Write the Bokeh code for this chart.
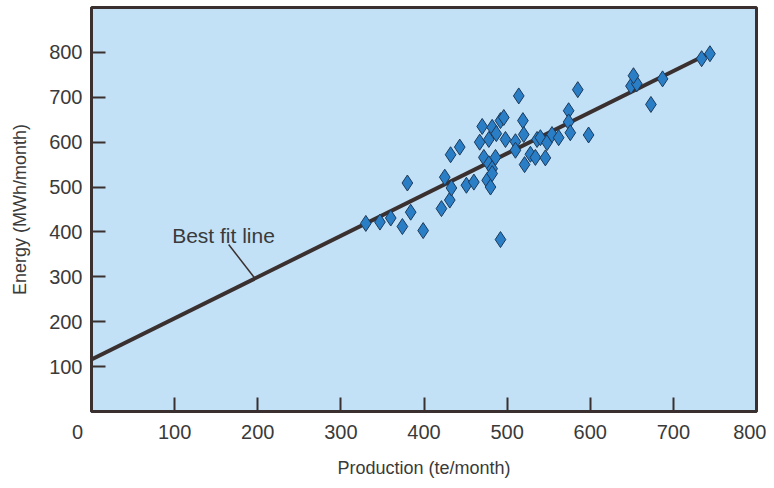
from bokeh.plotting import figure
from bokeh.models import FixedTicker, Range1d
from bokeh.embed import file_html
from bokeh.resources import INLINE
from bokeh.core.properties import value

# Scatter data
production = [330, 347, 360, 374, 380, 384, 399, 421, 425, 431, 433, 432, 443, 451, 460,
              467, 470, 472, 476, 478, 478, 480, 482, 482, 482, 486, 487, 492, 496, 492,
              498, 510, 510, 514, 519, 520, 521, 528, 534, 536, 540, 546, 548, 554, 562,
              574, 574, 576, 585, 598, 649, 656, 652, 673, 687, 734, 744]
energy = [419, 422, 431, 412, 509, 444, 403, 452, 522, 471, 498, 572, 589, 504, 511,
          600, 635, 566, 515, 606, 552, 500, 633, 541, 530, 566, 619, 648, 655, 383,
          606, 601, 582, 703, 648, 617, 550, 573, 566, 606, 610, 565, 599, 617, 610,
          670, 645, 621, 717, 616, 725, 730, 748, 684, 741, 786, 797]

# Best fit line end points
fit_x = [0, 742]
fit_y = [116, 797]

# Callout for the fit line
callout_text = "Best fit line"
callout_text_pos = (97, 393)
callout_x = [165, 196]
callout_y = [372, 298]

x_ticks = [0, 100, 200, 300, 400, 500, 600, 700, 800]
y_ticks = [100, 200, 300, 400, 500, 600, 700, 800]

DARK = "#3a3030"
TEXT = "#3a3a3a"
FONT = "Liberation Sans"

p = figure(width=766, height=480, output_backend="svg", toolbar_location=None,
           x_range=Range1d(0, 800), y_range=Range1d(0, 900),
           min_border_left=91, min_border_right=10, min_border_top=7, min_border_bottom=61)

p.background_fill_color = "#c2e1f6"
p.border_fill_color = "white"
p.outline_line_color = DARK
p.outline_line_width = 3
p.xgrid.visible = False
p.ygrid.visible = False

for ax in (p.xaxis[0], p.yaxis[0]):
    ax.axis_line_color = DARK
    ax.axis_line_width = 3
    ax.major_tick_line_color = DARK
    ax.major_tick_line_width = 2
    ax.major_tick_in = 14
    ax.major_tick_out = 0
    ax.minor_tick_line_color = None
    ax.major_label_text_font = FONT
    ax.major_label_text_font_size = "20px"
    ax.major_label_text_color = TEXT
    ax.axis_label_text_font = FONT
    ax.axis_label_text_font_size = "18px"
    ax.axis_label_text_font_style = "normal"
    ax.axis_label_text_color = TEXT
    ax.major_label_standoff = 9

p.xaxis.ticker = FixedTicker(ticks=x_ticks)
p.yaxis.ticker = FixedTicker(ticks=y_ticks)
# the origin label sits left of the corner in the original
p.xaxis.major_label_overrides = {0: "0\u00a0\u00a0\u00a0\u00a0\u00a0"}
p.xaxis.axis_label = "Production (te/month)"
p.yaxis.axis_label = "Energy (MWh/month)"
p.xaxis.axis_label_standoff = 12
p.yaxis.axis_label_standoff = 16

p.line(fit_x, fit_y, line_color=DARK, line_width=4)
p.line(callout_x, callout_y, line_color=DARK, line_width=1.5)

p.scatter(production, energy, marker="diamond", size=16,
          fill_color="#2a7ec6", line_color="#1d3a5a", line_width=1)

p.text(x=[callout_text_pos[0]], y=[callout_text_pos[1]], text=[callout_text],
       text_font=value(FONT), text_font_size="21px", text_color=TEXT,
       text_baseline="middle", text_align="left")

open("out.html", "w").write(file_html(p, INLINE))
